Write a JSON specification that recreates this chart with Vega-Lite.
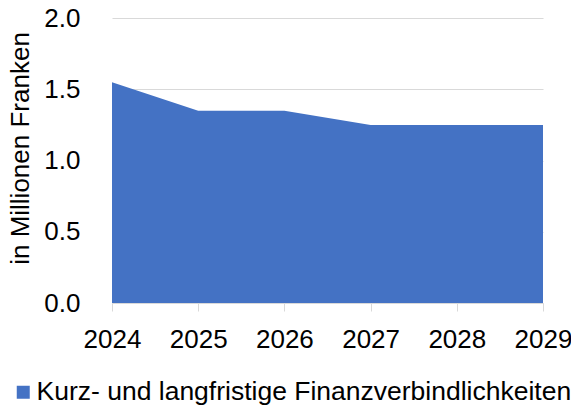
{
  "$schema": "https://vega.github.io/schema/vega-lite/v6.json",
  "autosize": "none",
  "width": 431,
  "height": 285,
  "padding": {"left": 112, "top": 18, "right": 28, "bottom": 102},
  "config": {
    "font": "Liberation Sans",
    "view": {"stroke": null},
    "axis": {"labelFont": "Liberation Sans", "titleFont": "Liberation Sans", "labelColor": "#000000", "titleColor": "#000000"}
  },
  "data": {
    "values": [
      {"year": 2024, "value": 1.55, "series": "Kurz- und langfristige Finanzverbindlichkeiten"},
      {"year": 2025, "value": 1.35, "series": "Kurz- und langfristige Finanzverbindlichkeiten"},
      {"year": 2026, "value": 1.35, "series": "Kurz- und langfristige Finanzverbindlichkeiten"},
      {"year": 2027, "value": 1.25, "series": "Kurz- und langfristige Finanzverbindlichkeiten"},
      {"year": 2028, "value": 1.25, "series": "Kurz- und langfristige Finanzverbindlichkeiten"},
      {"year": 2029, "value": 1.25, "series": "Kurz- und langfristige Finanzverbindlichkeiten"}
    ]
  },
  "mark": {"type": "area", "opacity": 1},
  "encoding": {
    "x": {
      "field": "year",
      "type": "quantitative",
      "scale": {"domain": [2024, 2029], "nice": false, "zero": false},
      "axis": {
        "values": [2024, 2025, 2026, 2027, 2028, 2029],
        "format": "d",
        "title": null,
        "grid": false,
        "domainColor": "#d9d9d9",
        "domainWidth": 1,
        "tickColor": "#d9d9d9",
        "tickSize": 8,
        "labelFontSize": 26,
        "labelPadding": 15,
        "labelFlush": false,
        "labelOverlap": false
      }
    },
    "y": {
      "field": "value",
      "type": "quantitative",
      "scale": {"domain": [0, 2], "nice": false},
      "axis": {
        "values": [0, 0.5, 1, 1.5, 2],
        "format": ".1f",
        "title": "in Millionen Franken",
        "titleFontSize": 26,
        "titleFontWeight": "normal",
        "titleAngle": 270,
        "titleBaseline": "alphabetic",
        "titleX": -84,
        "titleY": 130,
        "titleAlign": "center",
        "domain": false,
        "ticks": false,
        "grid": true,
        "gridColor": "#d9d9d9",
        "gridWidth": 1,
        "labelFontSize": 26,
        "labelPadding": 32
      }
    },
    "color": {
      "field": "series",
      "type": "nominal",
      "scale": {"range": ["#4472C4"]},
      "legend": {
        "title": null,
        "orient": "none",
        "legendX": -102,
        "legendY": 361,
        "symbolType": "square",
        "symbolSize": 169,
        "symbolStrokeWidth": 0,
        "symbolOpacity": 1,
        "labelFontSize": 26.5,
        "labelColor": "#000000",
        "labelOffset": 0,
        "labelLimit": 600
      }
    }
  }
}
